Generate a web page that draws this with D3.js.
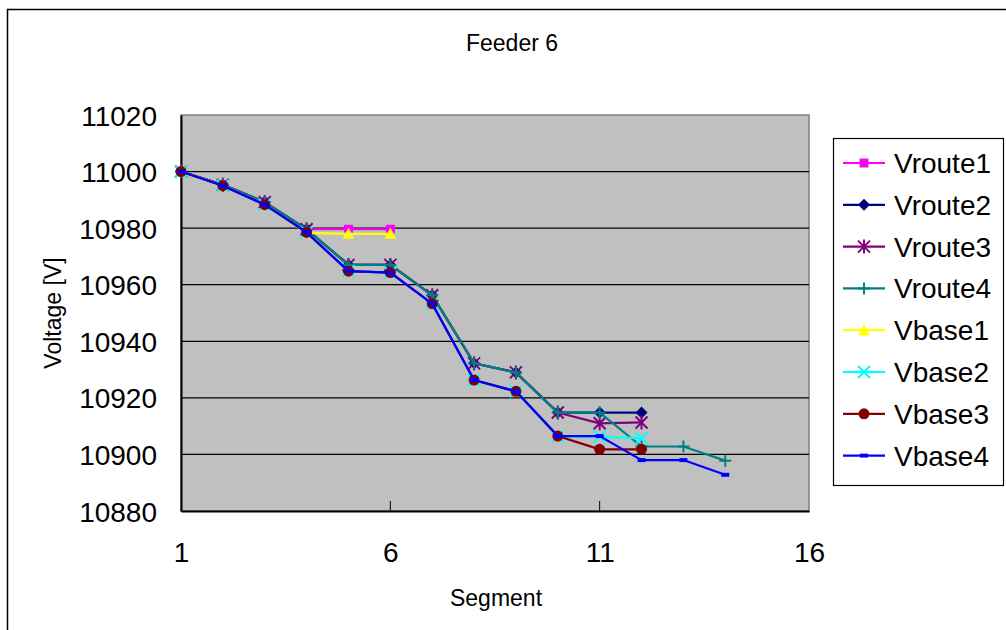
<!DOCTYPE html>
<html>
<head>
<meta charset="utf-8">
<script src="https://cdn.jsdelivr.net/npm/d3@7"></script>
<style>
  html, body { margin: 0; padding: 0; background: #fff; }
  svg { display: block; font-family: "Liberation Sans", Arial, sans-serif; }
</style>
</head>
<body>
<svg id="chart" width="1006" height="630"></svg>
<script>
// Voltage profile along Feeder 6 (segment index vs node voltage)
const segments = [1, 2, 3, 4, 5, 6, 7, 8, 9, 10, 11, 12, 13, 14];
const seriesNames = ["Vroute1", "Vroute2", "Vroute3", "Vroute4", "Vbase1", "Vbase2", "Vbase3", "Vbase4"];

const Vroute1 = [11000, 10995.3, 10989.2, 10979.6, 10979.6, 10979.6];
const Vroute2 = [11000, 10995.3, 10989.2, 10979.6, 10967, 10967, 10956.3, 10932.2, 10929, 10914.8, 10914.8, 10914.8];
const Vroute3 = [11000, 10995.3, 10989.2, 10979.6, 10967, 10967, 10956.3, 10932.2, 10929, 10914.8, 10911, 10911.3];
const Vroute4 = [11000, 10995.3, 10989.2, 10979.6, 10967, 10967, 10956.3, 10932.2, 10929, 10914.8, 10914.8, 10902.8, 10902.8, 10897.8];
const Vbase1 = [11000, 10995, 10988.3, 10978.3, 10978, 10978];
const Vbase2 = [11000, 10995, 10988.3, 10978.5, 10964.8, 10964.3, 10953.3, 10926.3, 10922.3, 10906.3, 10906.3, 10905.7];
const Vbase3 = [11000, 10995, 10988.3, 10978.5, 10964.8, 10964.3, 10953.3, 10926.3, 10922.3, 10906.5, 10901.8, 10901.8];
const Vbase4 = [11000, 10995, 10988.3, 10978.5, 10964.8, 10964.3, 10953.3, 10926.3, 10922.3, 10906.5, 10906.5, 10898, 10898, 10892.8];

const xTicks = [1, 6, 11, 16];
const yTicks = [10880, 10900, 10920, 10940, 10960, 10980, 11000, 11020];

const seriesValues = [Vroute1, Vroute2, Vroute3, Vroute4, Vbase1, Vbase2, Vbase3, Vbase4];
const colors = ["#FF00FF", "#000080", "#800080", "#008080", "#FFFF00", "#00FFFF", "#800000", "#0000FF"];
const markers = ["square", "diamond", "asterisk", "plus", "triangle", "cross", "circle", "dash"];

const svg = d3.select("#chart");

// outer chart frame
svg.append("rect").attr("x", 7.5).attr("y", 9.5).attr("width", 1020).attr("height", 640)
  .attr("fill", "#fff").attr("stroke", "#000").attr("stroke-width", 1.5);

const plot = { left: 181, top: 115, right: 809, bottom: 511 };
const x = d3.scaleLinear().domain([1, 16]).range([plot.left, plot.right]);
const y = d3.scaleLinear().domain([10880, 11020]).range([plot.bottom, plot.top]);

// plot area background
svg.append("rect").attr("x", plot.left).attr("y", plot.top)
  .attr("width", plot.right - plot.left).attr("height", plot.bottom - plot.top)
  .attr("fill", "#C0C0C0").attr("stroke", "#808080").attr("stroke-width", 1.5);

// horizontal gridlines
svg.append("g").selectAll("line").data(yTicks.slice(1, -1)).join("line")
  .attr("x1", plot.left).attr("x2", plot.right)
  .attr("y1", d => y(d)).attr("y2", d => y(d))
  .attr("stroke", "#000").attr("stroke-width", 1.2);

// y axis
const yAxis = d3.axisLeft(y).tickValues(yTicks).tickSize(0).tickPadding(24).tickFormat(d3.format("d"));
const gy = svg.append("g").attr("transform", `translate(${plot.left},0)`).call(yAxis);
gy.select(".domain").attr("stroke", "#000").attr("stroke-width", 2);
gy.selectAll("text").attr("font-size", 28).attr("fill", "#000").attr("dy", "0.36em");

// x axis
const xAxis = d3.axisBottom(x).tickValues(xTicks).tickSize(0).tickPadding(31).tickFormat(d3.format("d"));
const gx = svg.append("g").attr("transform", `translate(0,${plot.bottom})`).call(xAxis);
gx.select(".domain").attr("stroke", "#000").attr("stroke-width", 2);
gx.selectAll("text").attr("font-size", 28).attr("fill", "#000");
// inward tick marks on x axis
svg.append("g").selectAll("line").data(xTicks.slice(1, -1)).join("line")
  .attr("x1", d => x(d)).attr("x2", d => x(d))
  .attr("y1", plot.bottom - 10).attr("y2", plot.bottom)
  .attr("stroke", "#000").attr("stroke-width", 1);

// titles
svg.append("text").attr("x", 512).attr("y", 51).attr("text-anchor", "middle")
  .attr("font-size", 23).text("Feeder 6");
svg.append("text").attr("x", 496).attr("y", 606).attr("text-anchor", "middle")
  .attr("font-size", 23).text("Segment");
svg.append("text").attr("transform", "translate(61,313) rotate(-90)").attr("text-anchor", "middle")
  .attr("font-size", 23).text("Voltage [V]");

// marker drawing
function drawMarker(g, type, cx, cy, color) {
  const s = 4.5;
  switch (type) {
    case "square":
      g.append("rect").attr("x", cx - s).attr("y", cy - s).attr("width", 2 * s).attr("height", 2 * s)
        .attr("fill", color); break;
    case "diamond":
      g.append("path").attr("d", `M${cx},${cy - 6}L${cx + 6},${cy}L${cx},${cy + 6}L${cx - 6},${cy}Z`)
        .attr("fill", color); break;
    case "triangle":
      g.append("path").attr("d", `M${cx},${cy - 6}L${cx + 6},${cy + 5}L${cx - 6},${cy + 5}Z`)
        .attr("fill", color); break;
    case "circle":
      g.append("circle").attr("cx", cx).attr("cy", cy).attr("r", 5.5).attr("fill", color); break;
    case "dash":
      g.append("rect").attr("x", cx - 4).attr("y", cy - 2).attr("width", 8).attr("height", 4)
        .attr("fill", color); break;
    case "plus":
      g.append("path").attr("d", `M${cx - 6},${cy}H${cx + 6}M${cx},${cy - 6}V${cy + 6}`)
        .attr("stroke", color).attr("stroke-width", 2).attr("fill", "none"); break;
    case "cross":
      g.append("path").attr("d", `M${cx - 6},${cy - 6}L${cx + 6},${cy + 6}M${cx - 6},${cy + 6}L${cx + 6},${cy - 6}`)
        .attr("stroke", color).attr("stroke-width", 2).attr("fill", "none"); break;
    case "asterisk":
      g.append("path").attr("d", `M${cx - 6},${cy - 6}L${cx + 6},${cy + 6}M${cx - 6},${cy + 6}L${cx + 6},${cy - 6}M${cx},${cy - 7}V${cy + 7}`)
        .attr("stroke", color).attr("stroke-width", 2).attr("fill", "none"); break;
  }
}

// series lines and markers
const line = d3.line().x(d => x(d[0])).y(d => y(d[1]));
seriesValues.forEach((vals, i) => {
  const pts = vals.map((v, j) => [segments[j], v]);
  const g = svg.append("g");
  g.append("path").attr("d", line(pts)).attr("fill", "none")
    .attr("stroke", colors[i]).attr("stroke-width", 2.2);
  pts.forEach(p => drawMarker(g, markers[i], x(p[0]), y(p[1]), colors[i]));
});

// legend
const lg = svg.append("g");
const leg = { left: 833, top: 138, width: 170, height: 347 };
lg.append("rect").attr("x", leg.left + 0.5).attr("y", leg.top + 0.5)
  .attr("width", leg.width).attr("height", leg.height)
  .attr("fill", "#fff").attr("stroke", "#000").attr("stroke-width", 1.2);
seriesNames.forEach((name, i) => {
  const cy = 163 + i * 41.8;
  lg.append("line").attr("x1", 843).attr("x2", 885).attr("y1", cy).attr("y2", cy)
    .attr("stroke", colors[i]).attr("stroke-width", 2.2);
  drawMarker(lg, markers[i], 864, cy, colors[i]);
  lg.append("text").attr("x", 894).attr("y", cy).attr("dy", "0.36em")
    .attr("font-size", 28).text(name);
});
</script>
</body>
</html>
